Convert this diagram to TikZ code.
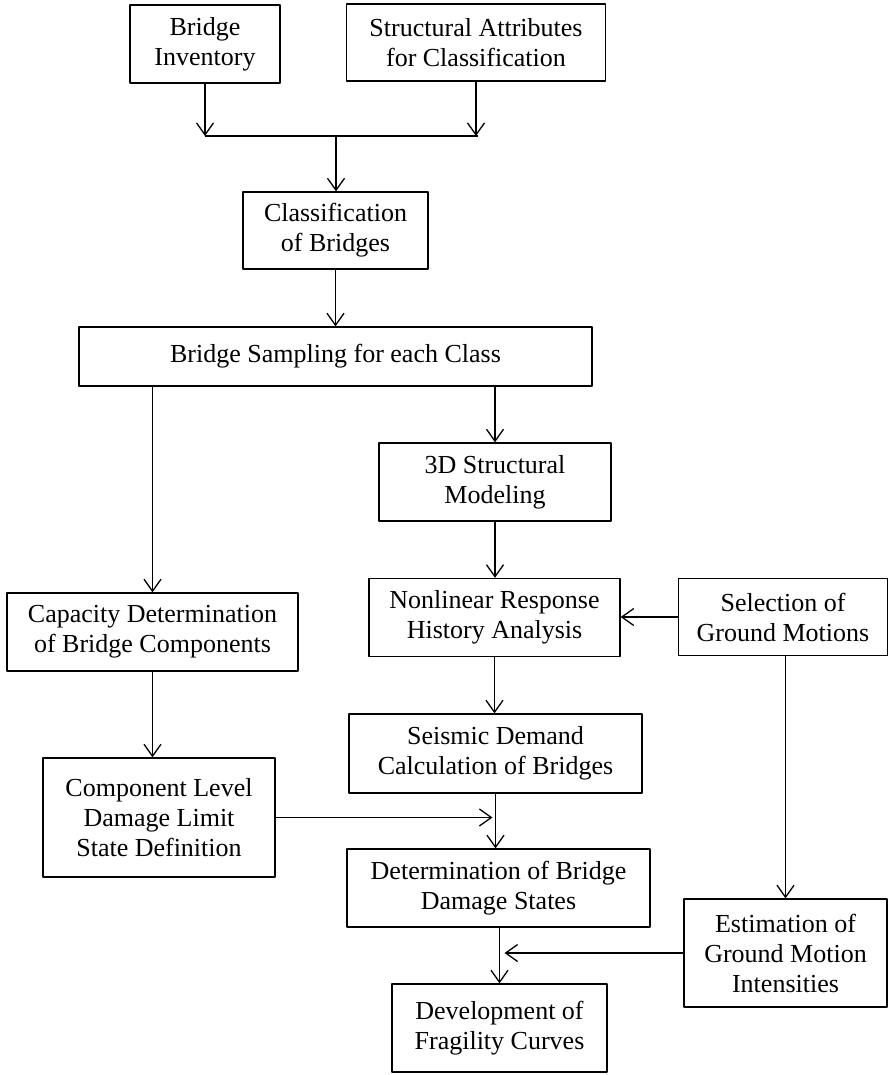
\documentclass[tikz,border=0pt]{standalone}
\usepackage{fontspec}
\setmainfont{Liberation Serif}
\usetikzlibrary{arrows.meta}
\begin{document}
\begin{tikzpicture}[x=1pt,y=-1pt,>={Straight Barb[length=12pt,width=17pt]},line width=1.3pt,line join=round,
	hop/.style={draw,inner sep=0pt,align=center,font=\fontsize{26}{30}\selectfont}]
	\useasboundingbox (0,0) rectangle (890,1075);
	\node[hop,minimum width=150,minimum height=78] (inv) at (205,44) {Bridge\\Inventory};
	\node[hop,minimum width=259,minimum height=77] (attr) at (476,42.5) {Structural Attributes\\for Classification};
	\node[hop,minimum width=185,minimum height=77] (cls) at (335.5,230.5) {Classification\\of Bridges};
	\node[hop,minimum width=513,minimum height=59] (samp) at (335.5,356.5) {Bridge Sampling for each Class};
	\node[hop,minimum width=232,minimum height=78] (model) at (495,482) {3D Structural\\Modeling};
	\node[hop,minimum width=291,minimum height=78] (cap) at (152.5,632) {Capacity Determination\\of Bridge Components};
	\node[hop,minimum width=251,minimum height=78] (nlrh) at (494.5,617.5) {Nonlinear Response\\History Analysis};
	\node[hop,minimum width=209,minimum height=77] (sel) at (783,617) {Selection of\\Ground Motions};
	\node[hop,minimum width=293,minimum height=79] (dem) at (495.5,753.5) {Seismic Demand\\Calculation of Bridges};
	\node[hop,minimum width=232,minimum height=119] (lim) at (159,817.5) {Component Level\\Damage Limit\\State Definition};
	\node[hop,minimum width=303,minimum height=78] (dmg) at (498.5,888) {Determination of Bridge\\Damage States};
	\node[hop,minimum width=203,minimum height=108] (est) at (785.5,953) {Estimation of\\Ground Motion\\Intensities};
	\node[hop,minimum width=215,minimum height=88] (frag) at (499.5,1028) {Development of\\Fragility Curves};
	\coordinate (jl) at (205,136);
	\coordinate (jr) at (478,136);
	\coordinate (jm) at (336,136);
	\draw (jl)--(jr);
	\draw[->] (inv.south)--(inv.south|-jl);
	\draw[->] (attr.south)--(attr.south|-jr);
	\draw[->] (jm)--(jm|-cls.north);
	\draw[->] (cls.south)--(cls.south|-samp.north);
	\draw[->] (cap.north|-samp.south)--(cap.north);
	\draw[->] (model.north|-samp.south)--(model.north);
	\draw[->] (model.south)--(model.south|-nlrh.north);
	\draw[->] (sel.west)--(sel.west-|nlrh.east);
	\draw[->] (nlrh.south)--(nlrh.south|-dem.north);
	\draw[->] (cap.south)--(cap.south|-lim.north);
	\draw[->] (dem.south)--(dem.south|-dmg.north);
	\draw[->,shorten >=3pt] (lim.east)--(lim.east-|dem.south);
	\draw[->] (est.north|-sel.south)--(est.north);
	\draw[->] (frag.north|-dmg.south)--(frag.north);
	\draw[->,shorten >=5pt] (est.west)--(est.west-|frag.north);
\end{tikzpicture}
\end{document}
